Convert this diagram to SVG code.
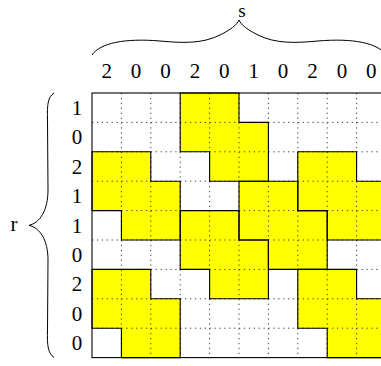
<svg xmlns="http://www.w3.org/2000/svg" width="381" height="366" viewBox="0 0 381 366">
<style>
.piece{fill:#ffff00;stroke:none}
.outline{fill:none;stroke:#000;stroke-width:1.1;stroke-linejoin:miter}
.dot{stroke:#444;stroke-width:1;stroke-dasharray:1.3 3.6;fill:none}
.lbl{font-family:"Liberation Serif","Times New Roman",serif;font-size:21px;fill:#000;text-anchor:middle}
.brace{fill:none;stroke:#000;stroke-width:1}
</style>
<rect width="381" height="366" fill="#fff"/>
<g id="fills">
<polygon class="piece" points="180.2,93 239,93 239,122.4 268.4,122.4 268.4,181.2 209.6,181.2 209.6,151.8 180.2,151.8"/>
<polygon class="piece" points="92,151.8 150.8,151.8 150.8,181.2 180.2,181.2 180.2,240 121.4,240 121.4,210.6 92,210.6"/>
<polygon class="piece" points="297.8,151.8 356.6,151.8 356.6,181.2 386,181.2 386,240 327.2,240 327.2,210.6 297.8,210.6"/>
<polygon class="piece" points="239,181.2 297.8,181.2 297.8,210.6 327.2,210.6 327.2,269.4 268.4,269.4 268.4,240 239,240"/>
<polygon class="piece" points="180.2,210.6 239,210.6 239,240 268.4,240 268.4,298.8 209.6,298.8 209.6,269.4 180.2,269.4"/>
<polygon class="piece" points="92,269.4 150.8,269.4 150.8,298.8 180.2,298.8 180.2,357.6 121.4,357.6 121.4,328.2 92,328.2"/>
<polygon class="piece" points="297.8,269.4 356.6,269.4 356.6,298.8 386,298.8 386,357.6 327.2,357.6 327.2,328.2 297.8,328.2"/>
</g>
<g id="grid">
<path class="dot" d="M121.4,93V357.6M150.8,93V357.6M180.2,93V357.6M209.6,93V357.6M239,93V357.6M268.4,93V357.6M297.8,93V357.6M327.2,93V357.6M356.6,93V357.6"/>
<path class="dot" d="M92,122.4H386M92,151.8H386M92,181.2H386M92,210.6H386M92,240H386M92,269.4H386M92,298.8H386M92,328.2H386"/>
</g>
<g id="connectors">
<g id="piece1"><polygon class="outline" points="180.2,93 239,93 239,122.4 268.4,122.4 268.4,181.2 209.6,181.2 209.6,151.8 180.2,151.8"/></g>
<g id="piece2"><polygon class="outline" points="92,151.8 150.8,151.8 150.8,181.2 180.2,181.2 180.2,240 121.4,240 121.4,210.6 92,210.6"/></g>
<g id="piece3"><polygon class="outline" points="297.8,151.8 356.6,151.8 356.6,181.2 386,181.2 386,240 327.2,240 327.2,210.6 297.8,210.6"/></g>
<g id="piece4"><polygon class="outline" points="239,181.2 297.8,181.2 297.8,210.6 327.2,210.6 327.2,269.4 268.4,269.4 268.4,240 239,240"/></g>
<g id="piece5"><polygon class="outline" points="180.2,210.6 239,210.6 239,240 268.4,240 268.4,298.8 209.6,298.8 209.6,269.4 180.2,269.4"/></g>
<g id="piece6"><polygon class="outline" points="92,269.4 150.8,269.4 150.8,298.8 180.2,298.8 180.2,357.6 121.4,357.6 121.4,328.2 92,328.2"/></g>
<g id="piece7"><polygon class="outline" points="297.8,269.4 356.6,269.4 356.6,298.8 386,298.8 386,357.6 327.2,357.6 327.2,328.2 297.8,328.2"/></g>
</g>
<g id="frame">
<rect x="92" y="93" width="294" height="264.6" fill="none" stroke="#000" stroke-width="1.1"/>
</g>
<g id="braces">
<path class="brace" d="M92,55 C100,43 125,38 160,41 C182,43 202,44 220,35 C230,30 237,25 239,20 C241,25 248,30 258,35 C276,44 296,43 318,41 C353,38 378,43 386,55"/>
<path class="brace" d="M54,93 C48,97 47,104 47.5,120 L48,190 C48,210 40,223 29,225.3 C40,228 48,240 48,260 L47.5,330 C47,346 48,353 54,357.6"/>
</g>
<g id="col-labels">
<text class="lbl" x="106.7" y="78">2</text>
<text class="lbl" x="136.1" y="78">0</text>
<text class="lbl" x="165.5" y="78">0</text>
<text class="lbl" x="194.9" y="78">2</text>
<text class="lbl" x="224.3" y="78">0</text>
<text class="lbl" x="253.7" y="78">1</text>
<text class="lbl" x="283.1" y="78">0</text>
<text class="lbl" x="312.5" y="78">2</text>
<text class="lbl" x="341.9" y="78">0</text>
<text class="lbl" x="371.3" y="78">0</text>
</g>
<g id="row-labels">
<text class="lbl" x="77" y="115">1</text>
<text class="lbl" x="77" y="144.4">0</text>
<text class="lbl" x="77" y="173.8">2</text>
<text class="lbl" x="77" y="203.2">1</text>
<text class="lbl" x="77" y="232.6">1</text>
<text class="lbl" x="77" y="262">0</text>
<text class="lbl" x="77" y="291.4">2</text>
<text class="lbl" x="77" y="320.8">0</text>
<text class="lbl" x="77" y="350.2">0</text>
</g>
<text id="s-label" class="lbl" x="242" y="17" style="font-size:19px">s</text>
<text id="r-label" class="lbl" x="14" y="231">r</text>
</svg>
